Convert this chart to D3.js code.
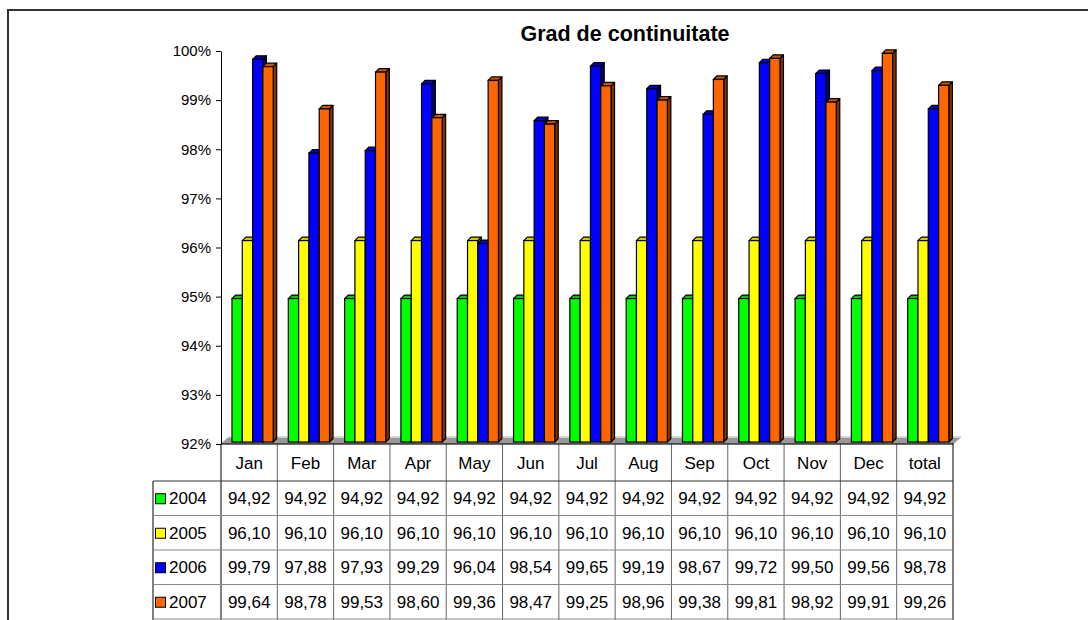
<!DOCTYPE html>
<meta charset="utf-8">
<title>Grad de continuitate</title>
<style>
  body { margin: 0; background: #fff; }
  text { font-family: "Liberation Sans", Arial, sans-serif; }
</style>
<body>
<script src="https://cdn.jsdelivr.net/npm/d3@7"></script>
<script>

var width = 1088,
    height = 620;

// data
var categories = ["Jan", "Feb", "Mar", "Apr", "May", "Jun", "Jul", "Aug", "Sep", "Oct", "Nov", "Dec", "total"];
var years = ["2004", "2005", "2006", "2007"];
var v2004 = [94.92, 94.92, 94.92, 94.92, 94.92, 94.92, 94.92, 94.92, 94.92, 94.92, 94.92, 94.92, 94.92];
var v2005 = [96.10, 96.10, 96.10, 96.10, 96.10, 96.10, 96.10, 96.10, 96.10, 96.10, 96.10, 96.10, 96.10];
var v2006 = [99.79, 97.88, 97.93, 99.29, 96.04, 98.54, 99.65, 99.19, 98.67, 99.72, 99.50, 99.56, 98.78];
var v2007 = [99.64, 98.78, 99.53, 98.60, 99.36, 98.47, 99.25, 98.96, 99.38, 99.81, 98.92, 99.91, 99.26];
var yTicks = [92, 93, 94, 95, 96, 97, 98, 99, 100];

var series = [v2004, v2005, v2006, v2007];
var front = ["#00ff00", "#ffff00", "#0000ff", "#ff6600"];
var side  = ["#008000", "#808000", "#000080", "#803300"];

var svg = d3.select("body").append("svg")
    .attr("width", width)
    .attr("height", height);

// outer frame (runs off the right and bottom of the picture)
svg.append("rect")
    .attr("x", 8).attr("y", 10)
    .attr("width", 1200).attr("height", 800)
    .attr("fill", "none")
    .attr("stroke", "#333")
    .attr("stroke-width", 2);

var plotL = 221, plotR = 953, plotT = 51, plotB = 444;

var y = d3.scaleLinear().domain([92, 100]).range([plotB, plotT]);
var x = d3.scaleBand().domain(categories).range([plotL, plotR]);
var xi = d3.scaleBand().domain(years).range([11, 52.2]);

var depth = 3.5, lift = 2, bw = 1.2;

// floor
var fd = 8, fh = 7;
svg.append("path")
    .attr("d", "M" + plotL + "," + plotB + "L" + plotR + "," + plotB +
               "L" + (plotR + fd) + "," + (plotB - fh) + "L" + (plotL + fd) + "," + (plotB - fh) + "Z")
    .attr("fill", "#999")
    .attr("stroke", "#777")
    .attr("stroke-width", 0.5);
svg.append("line")
    .attr("x1", plotL + fd).attr("x2", plotR + fd)
    .attr("y1", plotB - fh + 0.5).attr("y2", plotB - fh + 0.5)
    .attr("stroke", "#ccc");

// title
svg.append("text")
    .attr("x", 625).attr("y", 41)
    .attr("text-anchor", "middle")
    .style("font-size", "21.5px")
    .style("font-weight", "bold")
    .text("Grad de continuitate");

// bars
categories.forEach(function(c, i) {
  var g = svg.append("g").attr("transform", "translate(" + x(c) + ",0)");
  years.forEach(function(yr, s) {
    var v = series[s][i];
    var x0 = xi(yr), w = xi.bandwidth();
    var y0 = y(v) - lift, y1 = y(92) - lift;
    // side
    g.append("path")
      .attr("d", "M" + (x0 + w) + "," + y1 + "L" + (x0 + w + depth) + "," + (y1 - depth) +
                 "L" + (x0 + w + depth) + "," + (y0 - depth) + "L" + (x0 + w) + "," + y0 + "Z")
      .attr("fill", side[s]).attr("stroke", "#000").attr("stroke-width", bw)
      .attr("stroke-linejoin", "round");
    // top
    g.append("path")
      .attr("d", "M" + x0 + "," + y0 + "L" + (x0 + depth) + "," + (y0 - depth) +
                 "L" + (x0 + w + depth) + "," + (y0 - depth) + "L" + (x0 + w) + "," + y0 + "Z")
      .attr("fill", d3.color(front[s]).darker(0.6)).attr("stroke", "#000").attr("stroke-width", bw)
      .attr("stroke-linejoin", "round");
    // front
    g.append("rect")
      .attr("x", x0).attr("y", y0)
      .attr("width", w).attr("height", y1 - y0)
      .attr("fill", front[s]).attr("stroke", "#000").attr("stroke-width", bw);
  });
});

// y axis
var yAxis = d3.axisLeft(y)
    .tickValues(yTicks)
    .tickSize(5)
    .tickSizeOuter(0)
    .tickPadding(5)
    .tickFormat(function(d) { return d + "%"; });

var ax = svg.append("g")
    .attr("transform", "translate(" + plotL + ",0)")
    .call(yAxis);
ax.selectAll("text")
    .style("font-family", "'Liberation Sans', Arial, sans-serif")
    .style("font-size", "15px")
    .attr("fill", "#000");
ax.selectAll("line, path").attr("stroke", "#000");

// data table
var colW = x.bandwidth();
var headTop = plotB, headBot = 481;
var rowTops = [481, 515.5, 550, 584.5, 619];
var legLeft = 153;
var table = svg.append("g");

// vertical lines
categories.forEach(function(c, i) {
  table.append("line")
    .attr("x1", x(c)).attr("x2", x(c))
    .attr("y1", headTop).attr("y2", 620)
    .attr("stroke", i == 0 ? "#000" : "#666");
});
table.append("line")
  .attr("x1", plotR).attr("x2", plotR)
  .attr("y1", headTop - 1).attr("y2", 620)
  .attr("stroke", "#000");
table.append("line")
  .attr("x1", legLeft).attr("x2", legLeft)
  .attr("y1", headBot).attr("y2", 620)
  .attr("stroke", "#000");
// horizontal lines
rowTops.forEach(function(t, i) {
  table.append("line")
    .attr("x1", legLeft).attr("x2", plotR)
    .attr("y1", t).attr("y2", t)
    .attr("stroke", i == 0 ? "#333" : "#888");
});
table.append("line")
  .attr("x1", plotL).attr("x2", plotR)
  .attr("y1", headTop).attr("y2", headTop)
  .attr("stroke", "#000");

// header labels
categories.forEach(function(c) {
  table.append("text")
    .attr("x", x(c) + colW / 2).attr("y", (headTop + headBot) / 2 + 6)
    .attr("text-anchor", "middle")
    .style("font-size", "17px")
    .text(c);
});

// rows
var fmt = function(v) { return v.toFixed(2).replace(".", ","); };
years.forEach(function(yr, s) {
  var cy = (rowTops[s] + rowTops[s + 1]) / 2;
  table.append("rect")
    .attr("x", 155.5).attr("y", cy - 4.5)
    .attr("width", 10).attr("height", 10)
    .attr("fill", front[s]).attr("stroke", "#000").attr("stroke-width", 1);
  table.append("text")
    .attr("x", 169).attr("y", cy + 6)
    .style("font-size", "17px")
    .text(yr);
  categories.forEach(function(c, i) {
    table.append("text")
      .attr("x", x(c) + colW / 2).attr("y", cy + 6)
      .attr("text-anchor", "middle")
      .style("font-size", "17px")
      .text(fmt(series[s][i]));
  });
});

</script>
</body>
